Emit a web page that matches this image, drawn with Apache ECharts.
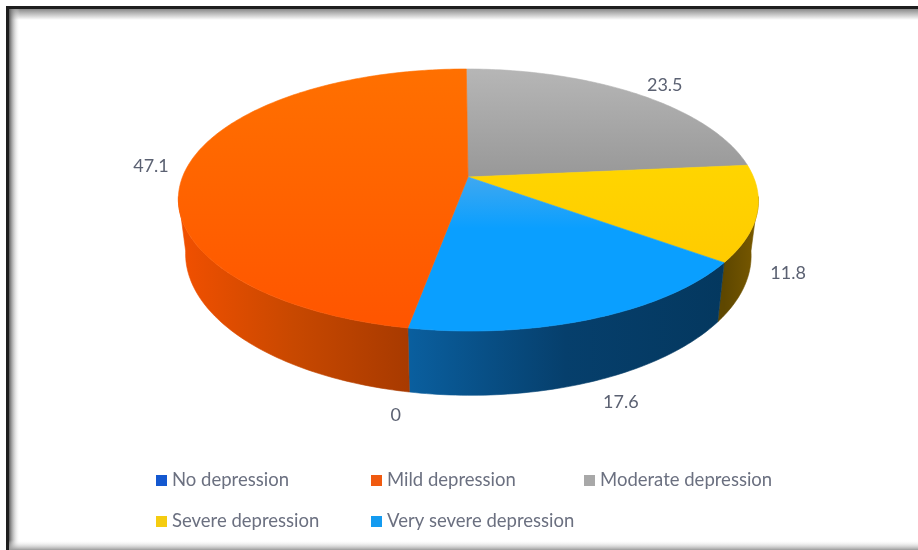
<!DOCTYPE html>
<html><head><meta charset="utf-8">
<style>html,body{margin:0;padding:0;background:#fff}#main{width:918px;height:550px;filter:blur(0.7px)}</style>
<script src="https://cdn.jsdelivr.net/npm/echarts@6/dist/echarts.min.js"></script>
</head><body><div id="main"></div>
<script>
// Data, in the pie's clockwise order starting from 12 o'clock
const categories = ['Moderate depression','Severe depression','Very severe depression','No depression','Mild depression'];
const values = [23.5, 11.8, 17.6, 0, 47.1];
const legendOrder = ['No depression','Mild depression','Moderate depression','Severe depression','Very severe depression'];

// Styling and layout
const legendColor = {'Moderate depression':'#a8a8a8','Severe depression':'#f5cc10','Very severe depression':'#149bf0','No depression':'#1458d0','Mild depression':'#f05a10'};
const topFill = [
  ['#b6b6b6','#989898'],['#ffd500','#ffcb00'],['#3fa8f0','#0a9fff','#0a9fff','#0a9fff'],['#1458d0','#1458d0'],['#ff7000','#ff5500']];
const sideFill = [
  ['#666','#555'],['#5e4700','#7a5a00'],['#0a5f9f','#063f6c','#04385f'],['#1458d0','#0a2c68'],['#f25000','#c84800','#a83a00']];
const labelShift = [[28,-9],[31,60],[27,84],[-12,87],[-37,1]];
const legendPos = [[156,471],[371,471],[584,471],[156,512],[371,512]];
const CX=468, APEX_Y=177, D=285.5, C=0.1756, A=-95.9, E=-2, DEPTH=53, BX=0.975;
const SIL=-0.15;

function proj(deg, bottom){
  const t=deg*Math.PI/180,u=Math.sin(t),v=Math.cos(t),w=1+C*v;
  const k=bottom?BX:1;
  return [CX+k*(D*u+E*v)/w,(A*v+APEX_Y)/w+(bottom?DEPTH/w:0)];
}
function arc(a0,a1,bottom){
  const pts=[],n=Math.max(2,Math.ceil(Math.abs(a1-a0)));
  for(let i=0;i<=n;i++)pts.push(proj(a0+(a1-a0)*i/n,bottom));
  return pts;
}
function grad(x,x2,y,y2,c){
  return {type:'linear',global:true,x:x,y:y,x2:x2,y2:y2,colorStops:c.map((col,i)=>({offset:i/(c.length-1),color:col}))};
}
const total=values.reduce((a,b)=>a+b,0);
function startAngle(i){let s=0;for(let j=0;j<i;j++)s+=values[j];return s/total*360;}
// angle where the side wall becomes visible: cos(angle) < SIL
const silR=Math.acos(SIL)*180/Math.PI, silL=360-silR;

function render(i){
  return function(){
    const children=[];
    const a0=startAngle(i),a1=a0+values[i]/total*360;
    const s0=Math.max(a0,silR),s1=Math.min(a1,silL);
    if(a1>a0 && s1>s0){
      const P=arc(s0,s1,false),B=arc(s0,s1,true).reverse();
      const xs=P.map(p=>p[0]);
      const f=grad(Math.min(...xs),Math.max(...xs),0,0,sideFill[i]);
      children.push({type:'polygon',shape:{points:P.concat(B)},style:{fill:f,stroke:f,lineWidth:0.6}});
    }
    if(a1>a0){
      const P=arc(a0,a1,false);
      const ys=P.map(p=>p[1]).concat([APEX_Y]);
      const f=grad(0,0,Math.min(...ys),Math.max(...ys),topFill[i]);
      children.push({type:'polygon',shape:{points:[[CX,APEX_Y]].concat(P)},style:{fill:f,stroke:f,lineWidth:0.6}});
    }
    const mid=proj((a0+a1)/2,false);
    children.push({type:'text',style:{text:String(values[i]),x:mid[0]+labelShift[i][0],y:mid[1]+labelShift[i][1],
      align:'center',verticalAlign:'middle',fill:'#5b6172',font:'18px Lato, sans-serif'}});
    return {type:'group',children};
  };
}
const series=categories.map((name,i)=>({type:'custom',name,coordinateSystem:'none',
  itemStyle:{color:legendColor[name]},data:[[values[i]]],renderItem:render(i),silent:true,animation:false}));
const legend=legendOrder.map((name,i)=>({data:[name],left:legendPos[i][0],top:legendPos[i][1],selectedMode:false,
  icon:'rect',itemWidth:11,itemHeight:11,itemGap:4,padding:0,
  textStyle:{color:'#6b7080',fontSize:18.5,fontFamily:'Lato, sans-serif'}}));
const frameDark='#1e1e1e';
const graphic=[
 {type:'rect',z:-1,shape:{x:6,y:6,width:912,height:3},style:{fill:frameDark}},
 {type:'rect',z:-1,shape:{x:6,y:6,width:3,height:544},style:{fill:frameDark}},
 {type:'rect',z:-2,shape:{x:9,y:9,width:909,height:11},style:{fill:{type:'linear',x:0,y:0,x2:0,y2:1,colorStops:[{offset:0,color:'#8a8a8a'},{offset:1,color:'#ffffff'}]}}},
 {type:'rect',z:-2,shape:{x:9,y:9,width:11,height:541},style:{fill:{type:'linear',x:0,y:0,x2:1,y2:0,colorStops:[{offset:0,color:'#5a5a5a'},{offset:1,color:'rgba(255,255,255,0)'}]}}},
 {type:'rect',z:-2,shape:{x:9,y:540,width:909,height:10},style:{fill:{type:'linear',x:0,y:0,x2:0,y2:1,colorStops:[{offset:0,color:'rgba(255,255,255,0)'},{offset:1,color:'#9a9a9a'}]}}}
];
const chart=echarts.init(document.getElementById('main'),null,{renderer:'canvas'});
chart.setOption({animation:false,backgroundColor:'#fff',legend,graphic,series});
</script></body></html>
